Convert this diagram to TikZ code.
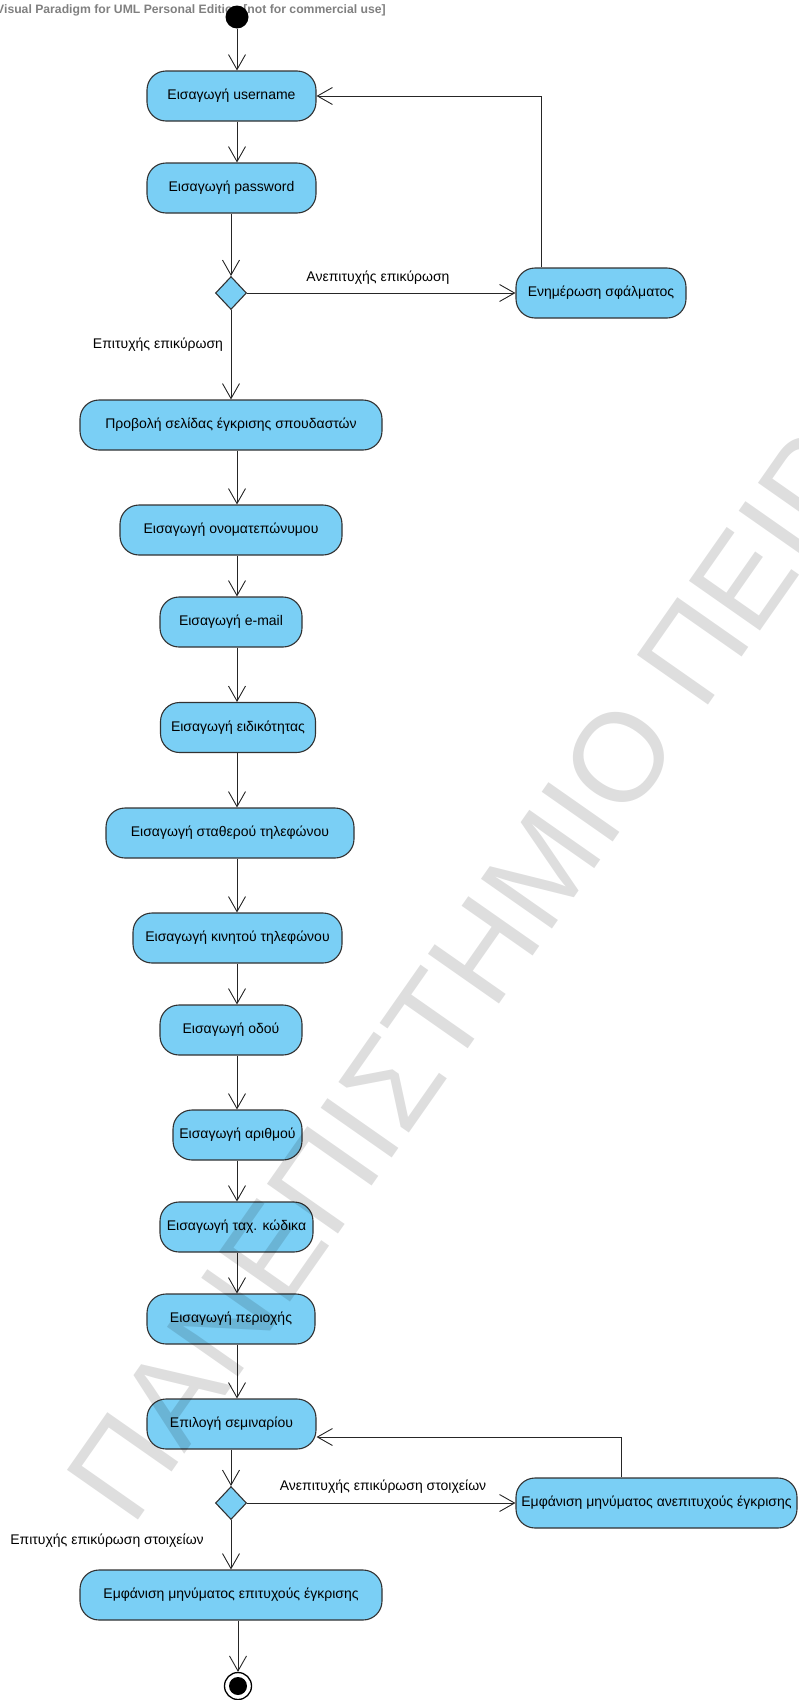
\documentclass[tikz,border=0pt]{standalone}
\usepackage{fontspec}
\setmainfont{Liberation Sans}
\usetikzlibrary{shapes.geometric,arrows.meta,calc}

\definecolor{actfill}{RGB}{122,207,245}
\definecolor{actline}{RGB}{50,50,50}

\tikzset{
  action/.style={draw=actline, fill=actfill, rounded corners=19pt, line width=1.1pt,
    minimum height=50pt, inner sep=0pt, font=\fontsize{14}{16}\selectfont},
  decision/.style={diamond, draw=actline, fill=actfill, line width=1.1pt,
    minimum width=31pt, minimum height=33pt, inner sep=0pt},
  flow/.style={-{Straight Barb[length=15pt,width=17pt]}, line width=0.9pt, black!85},
  guard/.style={inner sep=0pt, font=\fontsize{14}{16}\selectfont}
}

\begin{document}
\begin{tikzpicture}[x=1pt,y=-1pt]
  \useasboundingbox (0,0) rectangle (798,1700);
  \node[anchor=west, inner sep=0pt, text=black!50, font=\bfseries\fontsize{12.2}{14}\selectfont] (vp) at (-4,10)
    {Visual Paradigm for UML Personal Edition [not for commercial use]};

  \node[circle, fill=black, minimum size=23pt, inner sep=0pt] (start) at (237,17) {};
  \node[action, minimum width=169pt] (user) at (231.5,96) {Εισαγωγή username};
  \node[action, minimum width=169pt] (pass) at (231.5,188) {Εισαγωγή password};
  \node[decision] (dec1) at (231,293) {};
  \node[action, minimum width=170pt] (err) at (601,293) {Ενημέρωση σφάλματος};
  \node[action, minimum width=302pt] (view) at (231,425) {Προβολή σελίδας έγκρισης σπουδαστών};
  \node[action, minimum width=222pt] (name) at (231,530) {Εισαγωγή ονοματεπώνυμου};
  \node[action, minimum width=142pt] (email) at (231,622) {Εισαγωγή e-mail};
  \node[action, minimum width=155pt] (spec) at (238,727.5) {Εισαγωγή ειδικότητας};
  \node[action, minimum width=248pt] (land) at (230,833) {Εισαγωγή σταθερού τηλεφώνου};
  \node[action, minimum width=209pt] (mobile) at (237.5,938) {Εισαγωγή κινητού τηλεφώνου};
  \node[action, minimum width=142pt] (street) at (231,1030) {Εισαγωγή οδού};
  \node[action, minimum width=129pt] (number) at (237.5,1135) {Εισαγωγή αριθμού};
  \node[action, minimum width=153pt] (zip) at (236.5,1227) {Εισαγωγή ταχ. κώδικα};
  \node[action, minimum width=168pt] (area) at (231,1319) {Εισαγωγή περιοχής};
  \node[action, minimum width=169pt] (sem) at (231.5,1424) {Επιλογή σεμιναρίου};
  \node[decision] (dec2) at (231,1503) {};
  \node[action, minimum width=281pt] (fail2) at (656.5,1503) {Εμφάνιση μηνύματος ανεπιτυχούς έγκρισης};
  \node[action, minimum width=302pt] (ok2) at (231,1595) {Εμφάνιση μηνύματος επιτυχούς έγκρισης};
  \node[circle, draw=black, line width=1.3pt, fill=white, minimum size=27pt, inner sep=0pt] (end) at (238,1686) {};
  \fill (end.center) circle (9);

  \node[guard] (lab1) at (378,278) {Ανεπιτυχής επικύρωση};
  \node[guard] (lab2) at (158,345) {Επιτυχής επικύρωση};
  \node[guard] (lab3) at (383,1487) {Ανεπιτυχής επικύρωση στοιχείων};
  \node[guard] (lab4) at (107,1541) {Επιτυχής επικύρωση στοιχείων};

  \coordinate (spine) at (237,0);
  \coordinate (ret1) at (541,0);
  \coordinate (ret2) at (621,1437);

  \draw[flow] (start) -- (user.north -| start);
  \foreach \a/\b in {user/pass, view/name, name/email, email/spec, spec/land, land/mobile,
                     mobile/street, street/number, number/zip, zip/area, area/sem}
    \draw[flow] (\a.south -| spine) -- (\b.north -| spine);
  \draw[flow] (pass.south -| dec1) -- (dec1.north);
  \draw[flow] (dec1.east) -- (err.west);
  \draw[flow] (dec1.south) -- (view.north -| dec1);
  \draw[flow] (err.north -| ret1) |- (user.east);
  \draw[flow] (sem.south -| dec2) -- (dec2.north);
  \draw[flow] (dec2.east) -- (fail2.west);
  \draw[flow] (dec2.south) -- (ok2.north -| dec2);
  \draw[flow] (fail2.north -| ret2) |- (sem.east |- ret2);
  \draw[flow] (ok2.south -| end) -- (end.north);

  % watermark
  \node[rotate=55, anchor=base west, inner sep=0pt, text=black, text opacity=0.13,
    font=\fontsize{126}{130}\selectfont] (mark) at (132,1529) {ΠΑΝΕΠΙΣΤΗΜΙΟ ΠΕΙΡΑΙΩΣ};
\end{tikzpicture}
\end{document}
